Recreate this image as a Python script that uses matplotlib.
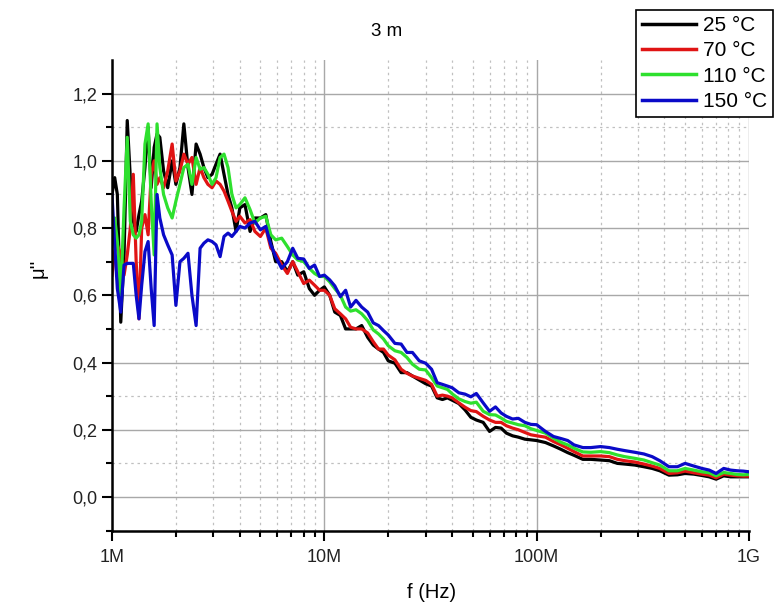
import matplotlib
matplotlib.use('Agg')
import matplotlib.pyplot as plt
from matplotlib.ticker import FixedLocator, FuncFormatter, LogLocator, NullFormatter
import numpy as np

plt.rcParams['font.family'] = ['Liberation Sans', 'DejaVu Sans']

# ------------------------------------------------------------
# data
# ------------------------------------------------------------
freq_mhz = [
    1.00, 1.03, 1.06, 1.10, 1.14, 1.18, 1.22, 1.26, 1.30, 1.34,
    1.38, 1.43, 1.48, 1.53, 1.58, 1.63, 1.68, 1.75, 1.83, 1.92,
    2.00, 2.09, 2.18, 2.28, 2.38, 2.49, 2.60, 2.71, 2.83, 2.96,
    3.09, 3.23, 3.37, 3.52, 3.67, 3.84, 4.00, 4.23, 4.47, 4.71,
    5.0, 5.3, 5.6, 5.9, 6.3, 6.7, 7.1, 7.5, 8.0, 8.5,
    9.0, 9.5, 10, 10.6, 11.2, 11.9, 12.6, 13.3, 14.1, 15,
    16, 17, 18, 19, 20, 21.5, 23, 24.5, 26, 28,
    30, 32, 34, 36, 38, 40, 43, 46, 49, 52,
    56, 60, 64, 68, 72, 77, 82, 88, 94, 100,
    110, 120, 130, 140, 150, 165, 180, 200, 220, 240,
    260, 290, 320, 350, 380, 420, 460, 500, 550, 600,
    650, 700, 760, 820, 880, 940, 1000,
]

mu_25 = [
    0.90, 0.95, 0.90, 0.52, 0.72, 1.12, 0.95, 0.82, 0.79, 0.84,
    0.88, 0.98, 1.10, 0.92, 1.04, 1.08, 1.07, 0.97, 0.92, 1.00,
    0.93, 0.98, 1.11, 0.98, 0.90, 1.05, 1.02, 0.98, 0.95, 0.96,
    0.99, 1.02, 0.96, 0.90, 0.86, 0.79, 0.86, 0.87, 0.79, 0.83,
    0.83, 0.84, 0.76, 0.70, 0.70, 0.67, 0.70, 0.66, 0.67, 0.62,
    0.60, 0.615, 0.625, 0.60, 0.55, 0.54, 0.50, 0.50, 0.50, 0.51,
    0.475, 0.452, 0.44, 0.43, 0.405, 0.398, 0.37, 0.37, 0.36, 0.348,
    0.337, 0.33, 0.295, 0.29, 0.295, 0.288, 0.278, 0.259, 0.237, 0.229,
    0.222, 0.195, 0.207, 0.205, 0.19, 0.182, 0.178, 0.172, 0.17, 0.168,
    0.162, 0.152, 0.142, 0.132, 0.124, 0.112, 0.112, 0.11, 0.108, 0.10,
    0.098, 0.095, 0.09, 0.085, 0.078, 0.065, 0.066, 0.07, 0.068, 0.064,
    0.06, 0.053, 0.063, 0.06, 0.06, 0.06, 0.06,
]

mu_70 = [
    0.66, 0.73, 0.75, 0.72, 0.66, 0.72, 0.80, 0.96, 0.70, 0.53,
    0.80, 0.84, 0.78, 0.96, 1.00, 0.93, 0.95, 0.92, 0.97, 1.05,
    0.94, 0.97, 1.02, 0.99, 1.01, 0.93, 0.98, 0.95, 0.93, 0.92,
    0.94, 0.93, 0.91, 0.88, 0.85, 0.82, 0.835, 0.815, 0.825, 0.79,
    0.775, 0.80, 0.74, 0.725, 0.69, 0.665, 0.70, 0.67, 0.635, 0.645,
    0.63, 0.615, 0.615, 0.60, 0.56, 0.545, 0.53, 0.505, 0.50, 0.50,
    0.488, 0.462, 0.44, 0.44, 0.422, 0.408, 0.38, 0.368, 0.36, 0.353,
    0.347, 0.335, 0.30, 0.303, 0.30, 0.295, 0.28, 0.267, 0.257, 0.254,
    0.24, 0.229, 0.222, 0.222, 0.212, 0.205, 0.20, 0.192, 0.185, 0.182,
    0.178, 0.165, 0.155, 0.145, 0.135, 0.122, 0.122, 0.122, 0.12, 0.112,
    0.108, 0.104, 0.098, 0.092, 0.085, 0.07, 0.072, 0.077, 0.072, 0.068,
    0.065, 0.057, 0.068, 0.065, 0.063, 0.062, 0.062,
]

mu_110 = [
    0.82, 0.83, 0.76, 0.60, 0.86, 1.07, 0.82, 0.78, 0.77, 0.78,
    0.82, 1.05, 1.11, 0.88, 0.72, 1.11, 0.98, 0.90, 0.86, 0.83,
    0.88, 0.93, 0.98, 0.99, 0.93, 1.01, 0.975, 0.98, 0.96, 0.93,
    0.95, 1.01, 1.02, 0.98, 0.90, 0.86, 0.87, 0.89, 0.855, 0.815,
    0.83, 0.835, 0.78, 0.765, 0.77, 0.745, 0.72, 0.705, 0.70, 0.68,
    0.665, 0.656, 0.656, 0.64, 0.62, 0.60, 0.565, 0.553, 0.557, 0.545,
    0.525, 0.497, 0.485, 0.47, 0.45, 0.435, 0.43, 0.415, 0.395, 0.38,
    0.378, 0.355, 0.33, 0.325, 0.32, 0.307, 0.292, 0.284, 0.279, 0.282,
    0.255, 0.245, 0.244, 0.235, 0.225, 0.22, 0.215, 0.212, 0.203, 0.198,
    0.19, 0.175, 0.163, 0.155, 0.145, 0.134, 0.133, 0.135, 0.132, 0.125,
    0.12, 0.115, 0.11, 0.102, 0.095, 0.078, 0.078, 0.085, 0.08, 0.075,
    0.072, 0.063, 0.073, 0.07, 0.067, 0.066, 0.067,
]

mu_150 = [
    0.90, 0.75, 0.62, 0.55, 0.69, 0.695, 0.695, 0.695, 0.60, 0.53,
    0.63, 0.73, 0.76, 0.62, 0.51, 0.90, 0.83, 0.78, 0.75, 0.72,
    0.57, 0.70, 0.71, 0.725, 0.60, 0.51, 0.74, 0.755, 0.765, 0.76,
    0.75, 0.715, 0.775, 0.785, 0.775, 0.79, 0.805, 0.80, 0.815, 0.82,
    0.795, 0.805, 0.75, 0.715, 0.68, 0.70, 0.74, 0.71, 0.708, 0.68,
    0.69, 0.656, 0.66, 0.646, 0.628, 0.596, 0.615, 0.565, 0.585, 0.565,
    0.55, 0.518, 0.51, 0.495, 0.482, 0.457, 0.455, 0.43, 0.43, 0.405,
    0.398, 0.38, 0.34, 0.335, 0.33, 0.325, 0.31, 0.306, 0.298, 0.308,
    0.28, 0.255, 0.268, 0.25, 0.24, 0.232, 0.234, 0.222, 0.216, 0.215,
    0.195, 0.18, 0.174, 0.168, 0.155, 0.147, 0.147, 0.15, 0.147, 0.142,
    0.138, 0.133, 0.128, 0.12, 0.108, 0.09, 0.09, 0.10, 0.092, 0.085,
    0.08, 0.07, 0.085, 0.08, 0.078, 0.077, 0.075,
]

series = [
    ('25 °C', mu_25, '#000000'),
    ('70 °C', mu_70, '#e01414'),
    ('110 °C', mu_110, '#2ee02e'),
    ('150 °C', mu_150, '#0a0ac8'),
]

# ------------------------------------------------------------
# plot
# ------------------------------------------------------------
fig = plt.figure(figsize=(7.76, 6.06), dpi=100)
ax = fig.add_axes([0.1443, 0.1244, 0.8209, 0.7766])

f_hz = np.array(freq_mhz) * 1e6
for label, vals, color in series:
    ax.plot(f_hz, vals, color=color, linewidth=2.3, label=label)

ax.set_xscale('log')
ax.set_xlim(1e6, 1e9)
ax.set_ylim(-0.1, 1.3)

# ticks
ax.xaxis.set_major_locator(FixedLocator([1e6, 1e7, 1e8, 1e9]))
ax.xaxis.set_major_formatter(FuncFormatter(
    lambda v, p: {1e6: '1M', 1e7: '10M', 1e8: '100M', 1e9: '1G'}.get(v, '')))
ax.xaxis.set_minor_locator(LogLocator(base=10, subs=np.arange(2, 10), numticks=20))
ax.xaxis.set_minor_formatter(NullFormatter())

ax.yaxis.set_major_locator(FixedLocator([0.0, 0.2, 0.4, 0.6, 0.8, 1.0, 1.2]))
ax.yaxis.set_minor_locator(FixedLocator([-0.1, 0.1, 0.3, 0.5, 0.7, 0.9, 1.1]))
ax.yaxis.set_major_formatter(FuncFormatter(lambda v, p: f'{v:.1f}'.replace('.', ',')))

ax.tick_params(which='major', direction='out', length=7, width=1.5, labelsize=13,
               colors='black', labelcolor='#222222')
ax.tick_params(which='minor', direction='out', length=4, width=1.5)
ax.tick_params(axis='x', which='major', pad=6)

# grid
ax.grid(True, which='major', color='#a8a8a8', linestyle='-', linewidth=1.0)
ax.grid(True, which='minor', color='#c0c0c0', linestyle=(0, (2, 3)), linewidth=0.9)
ax.set_axisbelow(True)

for side in ('top', 'right'):
    ax.spines[side].set_visible(False)
for side in ('left', 'bottom'):
    ax.spines[side].set_linewidth(1.8)

# texts
fig.text(387 / 776, 1 - 32 / 606, '3 m', ha='center', va='center', fontsize=13.5)
fig.text(432 / 776, 1 - 592 / 606, 'f (Hz)', ha='center', va='center', fontsize=14.5)
fig.text(38 / 776, 1 - 268 / 606, "μ''", ha='center', va='center',
         fontsize=14.5, rotation=90)

leg = fig.legend(loc='upper left', bbox_to_anchor=(636 / 776, 1 - 10 / 606),
                 fontsize=15, frameon=True, fancybox=False, framealpha=1,
                 edgecolor='black', handlelength=2.6, handletextpad=0.3,
                 labelspacing=0.3, borderpad=0.3, borderaxespad=0)
leg.get_frame().set_linewidth(1.2)
for line in leg.get_lines():
    line.set_linewidth(2.5)

fig.savefig('out.png', dpi=100)
